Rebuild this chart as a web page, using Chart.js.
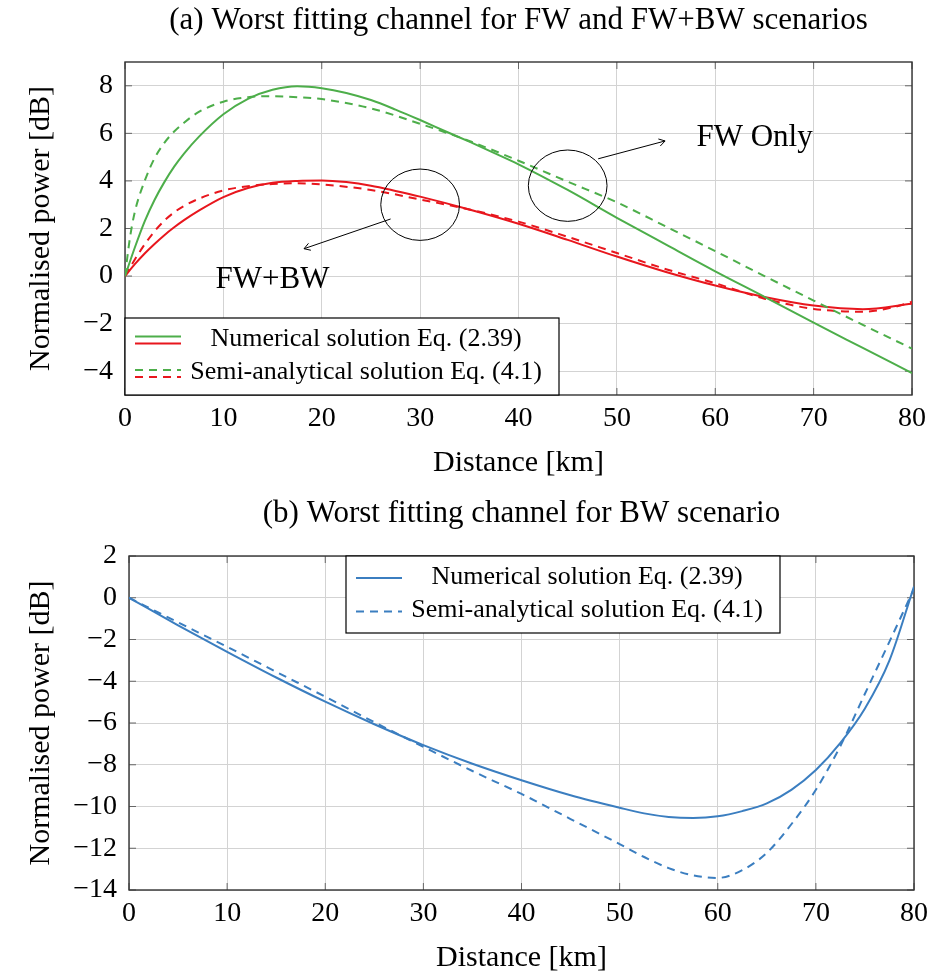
<!DOCTYPE html>
<html>
<head>
<meta charset="utf-8">
<script src="https://cdn.jsdelivr.net/npm/chart.js@4.4.1/dist/chart.umd.min.js"></script>
<style>
  html, body { margin: 0; padding: 0; background: #fff; }
  .wrap { position: absolute; left: 0; width: 935px; }
  #wrapA { top: 0; height: 490px; }
  #wrapB { top: 490px; height: 486px; }
</style>
</head>
<body>
<div class="wrap" id="wrapA"><canvas id="chartA"></canvas></div>
<div class="wrap" id="wrapB"><canvas id="chartB"></canvas></div>
<script>
// --- (a) FW / FW+BW : distance [km] and normalised power [dB] ---
const xFwNum = [0, 1, 2, 3, 4, 5, 6, 7.5, 10, 12.5, 15, 17.5, 20, 22.5, 25, 27.5, 30, 32.5, 35, 37.5, 40, 45, 50, 55, 60, 65, 70, 75, 80];
const yFwNum = [0, 1.2, 2.3, 3.2, 3.95, 4.6, 5.15, 5.85, 6.8, 7.45, 7.83, 7.98, 7.9, 7.7, 7.4, 7.0, 6.56, 6.1, 5.65, 5.18, 4.7, 3.62, 2.45, 1.32, 0.2, -0.87, -1.96, -3.02, -4.08];

const xFwSemi = [0, 0.5, 1, 2, 3, 4, 5, 6, 7.5, 10, 12.5, 15, 17.5, 20, 25, 30, 35, 40, 45, 50, 55, 60, 65, 70, 75, 80];
const yFwSemi = [0, 1.6, 2.7, 4.0, 4.95, 5.6, 6.08, 6.45, 6.9, 7.33, 7.52, 7.56, 7.52, 7.44, 7.05, 6.4, 5.68, 4.85, 3.97, 3.1, 2.08, 1.05, 0.0, -1.03, -2.05, -3.05];

const xFwbwNum = [0, 1, 2, 3, 4, 5, 6, 7.5, 10, 12.5, 15, 17.5, 20, 22.5, 25, 27.5, 30, 35, 40, 45, 50, 55, 60, 65, 70, 75, 80];
const yFwbwNum = [0, 0.5, 0.95, 1.35, 1.72, 2.05, 2.35, 2.75, 3.32, 3.7, 3.92, 4.0, 4.02, 3.95, 3.8, 3.58, 3.34, 2.8, 2.2, 1.52, 0.82, 0.17, -0.4, -0.88, -1.24, -1.39, -1.16];

const xFwbwSemi = [0, 1, 2, 3, 4, 5, 6, 7.5, 10, 12.5, 15, 17.5, 20, 25, 30, 35, 40, 45, 50, 55, 60, 65, 70, 75, 78, 80];
const yFwbwSemi = [0, 0.7, 1.33, 1.88, 2.33, 2.68, 2.95, 3.25, 3.6, 3.78, 3.87, 3.9, 3.85, 3.62, 3.22, 2.8, 2.29, 1.65, 0.97, 0.29, -0.3, -0.95, -1.38, -1.5, -1.32, -1.08];

// --- (b) BW ---
const xBw = [0, 5, 10, 15, 20, 25, 30, 35, 40, 45, 50, 52.5, 55, 57.5, 60, 62.5, 65, 67.5, 70, 72.5, 75, 77.5, 80];
const yBwNum = [0, -1.32, -2.59, -3.82, -4.98, -6.06, -7.06, -7.95, -8.74, -9.46, -10.06, -10.33, -10.5, -10.55, -10.47, -10.22, -9.85, -9.2, -8.25, -6.95, -5.3, -3.0, 0.54];
const yBwSemi = [0, -1.18, -2.35, -3.55, -4.74, -5.96, -7.14, -8.3, -9.4, -10.6, -11.8, -12.42, -12.95, -13.3, -13.42, -13.05, -12.22, -10.85, -9.2, -7.1, -4.6, -2.1, 0.43];

// ticks
const xTicks = [0, 10, 20, 30, 40, 50, 60, 70, 80];
const yTicksA = [-4, -2, 0, 2, 4, 6, 8];
const yTicksB = [-14, -12, -10, -8, -6, -4, -2, 0, 2];

// labels
const legendLabels = ['Numerical solution Eq. (2.39)', 'Semi-analytical solution Eq. (4.1)'];

// annotations of (a), in axis units
const ellipsesA = [{ x: 30, y: 3, rx: 4, ry: 1.5 }, { x: 45, y: 3.8, rx: 4, ry: 1.5 }];
const arrowsA = [{ from: [27, 2.4], to: [18.2, 1.15] }, { from: [48.1, 4.93], to: [54.9, 5.68] }];
const notesA = [{ x: 15, y: -0.5, text: 'FW+BW' }, { x: 64, y: 5.46, text: 'FW Only' }];

const SERIF = "'Liberation Serif', 'Times New Roman', serif";
const GREEN = '#4dae4a', RED = '#e8161d', BLUE = '#3b7ec0';

Chart.defaults.color = '#000';
Chart.defaults.font.family = SERIF;

const pts = (xs, ys) => xs.map((x, i) => ({ x: x, y: ys[i] }));
const minus = v => String(v).replace('-', '\u2212');

function line(data, color, dashed) {
    return {
        data: data,
        borderColor: color,
        backgroundColor: color,
        borderWidth: 2,
        borderDash: dashed ? [8, 6] : [],
        pointRadius: 0,
        cubicInterpolationMode: 'monotone',
        fill: false
    };
}

// box around the axis, with inward tick marks on all four sides
const framePlugin = {
    id: 'frame',
    beforeDatasetsDraw(chart) {
        const { ctx, chartArea: a, scales: { x, y } } = chart;
        ctx.save();
        ctx.strokeStyle = '#666';
        ctx.lineWidth = 1;
        ctx.beginPath();
        x.ticks.forEach(t => {
            const p = x.getPixelForValue(t.value);
            ctx.moveTo(p, a.bottom); ctx.lineTo(p, a.bottom - 7);
            ctx.moveTo(p, a.top); ctx.lineTo(p, a.top + 7);
        });
        y.ticks.forEach(t => {
            const p = y.getPixelForValue(t.value);
            ctx.moveTo(a.left, p); ctx.lineTo(a.left + 7, p);
            ctx.moveTo(a.right, p); ctx.lineTo(a.right - 7, p);
        });
        ctx.stroke();
        ctx.strokeStyle = '#333';
        ctx.lineWidth = 1.4;
        ctx.strokeRect(a.left, a.top, a.right - a.left, a.bottom - a.top);
        ctx.restore();
    }
};

// pgfplots-like legend box; rows list the datasets sharing one label
function boxLegend(offsetX, rows) {
    return {
        id: 'boxLegend',
        afterDatasetsDraw(chart) {
            const { ctx, chartArea: a } = chart;
            const w = 434, h = 77;
            const left = a.left + offsetX;
            const top = offsetX === 0 ? a.bottom - h : a.top;
            ctx.save();
            ctx.fillStyle = '#fff';
            ctx.fillRect(left, top, w, h);
            ctx.strokeStyle = '#000';
            ctx.lineWidth = 1.2;
            ctx.strokeRect(left, top, w, h);
            rows.forEach((row, r) => {
                const cy = top + 21 + r * 33.5;
                const offs = row.sets.length > 1 ? [-2.5, 4.5] : [1];
                row.sets.forEach((di, k) => {
                    const ds = chart.data.datasets[di];
                    ctx.strokeStyle = ds.borderColor;
                    ctx.lineWidth = 2;
                    ctx.setLineDash(ds.borderDash);
                    ctx.beginPath();
                    ctx.moveTo(left + 10, cy + offs[k]);
                    ctx.lineTo(left + 56, cy + offs[k]);
                    ctx.stroke();
                });
                ctx.setLineDash([]);
                ctx.fillStyle = '#000';
                ctx.font = '26px ' + SERIF;
                ctx.textAlign = 'center';
                ctx.textBaseline = 'middle';
                ctx.fillText(row.text, left + 241, cy);
            });
            ctx.restore();
        }
    };
}

// ellipses, arrows and notes placed in axis coordinates
const notesPlugin = {
    id: 'notes',
    afterDatasetsDraw(chart) {
        const { ctx, scales: { x, y } } = chart;
        ctx.save();
        ctx.strokeStyle = '#000';
        ctx.lineWidth = 1;
        ellipsesA.forEach(e => {
            const cx = x.getPixelForValue(e.x), cy = y.getPixelForValue(e.y);
            const rx = x.getPixelForValue(e.x + e.rx) - cx;
            const ry = cy - y.getPixelForValue(e.y + e.ry);
            ctx.beginPath();
            ctx.ellipse(cx, cy, rx, ry, 0, 0, Math.PI * 2);
            ctx.stroke();
        });
        arrowsA.forEach(ar => {
            const x0 = x.getPixelForValue(ar.from[0]), y0 = y.getPixelForValue(ar.from[1]);
            const x1 = x.getPixelForValue(ar.to[0]), y1 = y.getPixelForValue(ar.to[1]);
            const ang = Math.atan2(y1 - y0, x1 - x0);
            ctx.beginPath();
            ctx.moveTo(x0, y0); ctx.lineTo(x1, y1);
            ctx.moveTo(x1 - 7 * Math.cos(ang - 0.55), y1 - 7 * Math.sin(ang - 0.55));
            ctx.lineTo(x1, y1);
            ctx.lineTo(x1 - 7 * Math.cos(ang + 0.55), y1 - 7 * Math.sin(ang + 0.55));
            ctx.stroke();
        });
        ctx.fillStyle = '#000';
        ctx.font = '31px ' + SERIF;
        ctx.textAlign = 'center';
        ctx.textBaseline = 'alphabetic';
        notesA.forEach(n => ctx.fillText(n.text, x.getPixelForValue(n.x), y.getPixelForValue(n.y)));
        ctx.restore();
    }
};

function options(title, ymin, ymax, yTicks, yWidth, titlePad, xHeight) {
    return {
        responsive: true,
        maintainAspectRatio: false,
        animation: false,
        layout: { padding: { left: 0, right: 0, top: 0, bottom: 0 } },
        plugins: {
            legend: { display: false },
            tooltip: { enabled: false },
            title: {
                display: true,
                text: title,
                fullSize: false,
                font: { size: 31, weight: 'normal', family: SERIF },
                padding: titlePad
            }
        },
        scales: {
            x: {
                type: 'linear',
                min: 0,
                max: 80,
                afterBuildTicks: s => { s.ticks = xTicks.map(v => ({ value: v })); },
                afterFit: s => { s.height = xHeight; },
                ticks: { font: { size: 28 }, padding: 7, maxRotation: 0 },
                grid: { color: '#d3d3d3', lineWidth: 1, drawTicks: false },
                border: { display: false },
                title: { display: true, text: 'Distance [km]', font: { size: 30 }, padding: { top: 0, bottom: 0 } }
            },
            y: {
                type: 'linear',
                min: ymin,
                max: ymax,
                afterBuildTicks: s => { s.ticks = yTicks.map(v => ({ value: v })); },
                afterFit: s => { s.width = yWidth; },
                ticks: { font: { size: 28 }, padding: 12, callback: minus },
                grid: { color: '#d3d3d3', lineWidth: 1, drawTicks: false },
                border: { display: false },
                title: { display: true, text: 'Normalised power [dB]', font: { size: 30 }, padding: { top: 23, bottom: 0 } }
            }
        }
    };
}

new Chart(document.getElementById('chartA'), {
    type: 'line',
    data: {
        datasets: [
            line(pts(xFwNum, yFwNum), GREEN, false),
            line(pts(xFwSemi, yFwSemi), GREEN, true),
            line(pts(xFwbwNum, yFwbwNum), RED, false),
            line(pts(xFwbwSemi, yFwbwSemi), RED, true)
        ]
    },
    options: (() => {
        const o = options('(a) Worst fitting channel for FW and FW+BW scenarios', -5, 9, yTicksA, 125,
            { top: 2, bottom: 22.8 }, 86);
        o.layout.padding.right = 23;
        o.layout.padding.bottom = 9;
        return o;
    })(),
    plugins: [framePlugin, notesPlugin, boxLegend(0, [
        { text: legendLabels[0], sets: [0, 2] },
        { text: legendLabels[1], sets: [1, 3] }
    ])]
});

new Chart(document.getElementById('chartB'), {
    type: 'line',
    data: {
        datasets: [
            line(pts(xBw, yBwNum), BLUE, false),
            line(pts(xBw, yBwSemi), BLUE, true)
        ]
    },
    options: (() => {
        const o = options('(b) Worst fitting channel for BW scenario', -14, 2, yTicksB, 129,
            { top: 5.4, bottom: 23.4 }, 86);
        o.layout.padding.right = 18;
        o.layout.padding.bottom = 0;
        return o;
    })(),
    plugins: [framePlugin, boxLegend(217, [
        { text: legendLabels[0], sets: [0] },
        { text: legendLabels[1], sets: [1] }
    ])]
});
</script>
</body>
</html>
